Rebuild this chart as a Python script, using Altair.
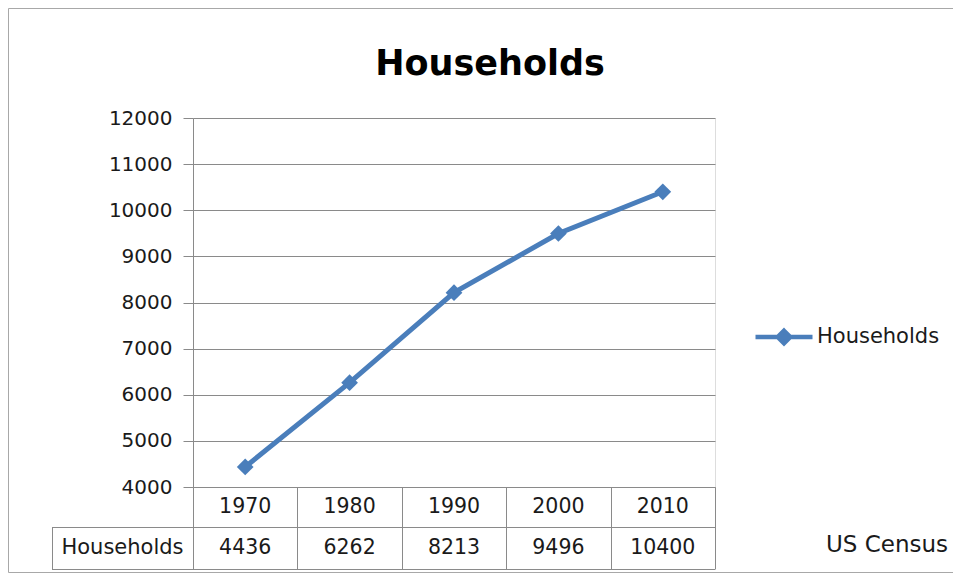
import altair as alt
import pandas as pd

years = ["1970", "1980", "1990", "2000", "2010"]
households = [4436, 6262, 8213, 9496, 10400]
series_name = "Households"
y_ticks = [4000, 5000, 6000, 7000, 8000, 9000, 10000, 11000, 12000]
title_text = "Households"
source_text = "US Census"

df = pd.DataFrame({"year": years, "households": households, "series": series_name})

FONT = "DejaVu Sans"
BLUE = "#4a7ebb"
GRAY = "#8a8a8a"
W, H = 522, 369

xscale = alt.Scale(type="band", paddingInner=0, paddingOuter=0)
yscale = alt.Scale(domain=[4000, 12000], nice=False, zero=False)

base = alt.Chart(df)

line = base.mark_line(
    strokeWidth=5,
    point=alt.OverlayMarkDef(shape="diamond", size=280, filled=True, color=BLUE),
).encode(
    x=alt.X("year:O", scale=xscale,
            axis=alt.Axis(orient="bottom", title=None, labels=False, tickBand="extent",
                          tickSize=82, tickColor=GRAY, domainColor=GRAY, grid=False)),
    y=alt.Y("households:Q", scale=yscale,
            axis=alt.Axis(title=None, values=y_ticks, format="d", grid=True, gridColor=GRAY,
                          domainColor=GRAY, tickColor=GRAY, tickSize=10,
                          labelFont=FONT, labelFontSize=20, labelColor="#1a1a1a",
                          labelPadding=11)),
    color=alt.Color("series:N", scale=alt.Scale(range=[BLUE]),
                    legend=alt.Legend(title=None, orient="none", legendX=560, legendY=188,
                                      symbolType="M-1,0L1,0M0,-0.22L0.22,0L0,0.22L-0.22,0Z",
                                      symbolSize=3249, symbolStrokeWidth=4.5,
                                      symbolFillColor=BLUE, symbolStrokeColor=BLUE,
                                      labelFont=FONT, labelFontSize=21, labelColor="#1a1a1a",
                                      labelOffset=2)),
)

year_text = base.mark_text(font=FONT, fontSize=20.5, color="#1a1a1a", baseline="middle").encode(
    x=alt.X("year:O", scale=xscale),
    y=alt.value(389),
    text="year:N",
)
value_text = base.mark_text(font=FONT, fontSize=20.5, color="#1a1a1a", baseline="middle").encode(
    x=alt.X("year:O", scale=xscale),
    y=alt.value(430),
    text="households:Q",
)

one = alt.Chart(pd.DataFrame({"series": [series_name]}))
row_label = one.mark_text(font=FONT, fontSize=21, color="#1a1a1a", baseline="middle").encode(
    x=alt.value(-70.5), y=alt.value(430), text="series:N"
)
hline1 = one.mark_rule(color=GRAY, strokeWidth=1).encode(
    x=alt.value(-141), x2=alt.value(W), y=alt.value(409.5)
)
hline2 = one.mark_rule(color=GRAY, strokeWidth=1).encode(
    x=alt.value(-141), x2=alt.value(W), y=alt.value(451.5)
)
vline = one.mark_rule(color=GRAY, strokeWidth=1).encode(
    x=alt.value(-140.5), y=alt.value(409.5), y2=alt.value(451.5)
)
source = one.mark_text(font=FONT, fontSize=23, color="#1a1a1a", baseline="middle", align="left").encode(
    x=alt.value(633), y=alt.value(427), text=alt.value(source_text)
)
border = one.mark_rect(fill=None, stroke="#a8a8a8", strokeWidth=1).encode(
    x=alt.value(-184.5), x2=alt.value(800), y=alt.value(-109.5), y2=alt.value(454.5)
)

chart = alt.layer(
    border, line, year_text, value_text, row_label, hline1, hline2, vline, source
).properties(
    width=W, height=H,
    padding={"left": 185, "top": 110, "right": 238, "bottom": 86},
    autosize=alt.AutoSizeParams(type="none"),
    title=alt.TitleParams(title_text, font=FONT, fontSize=35, fontWeight="bold", color="black",
                          anchor="middle", dx=36, baseline="alphabetic", offset=-102),
).configure_view(stroke=None).configure(background="white")

chart.save("out.html", embed_options={"renderer": "svg", "actions": False})
